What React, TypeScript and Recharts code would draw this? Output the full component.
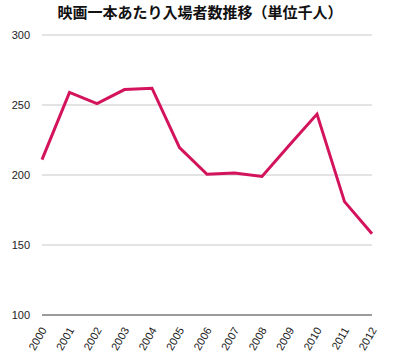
import { LineChart, Line, XAxis, YAxis, CartesianGrid } from 'recharts';

const years = ['2000', '2001', '2002', '2003', '2004', '2005', '2006', '2007', '2008', '2009', '2010', '2011', '2012'];
const visitors = [211, 259, 251, 261, 262, 219.5, 200.5, 201.5, 199, 221.5, 243.5, 181, 158];
const yTicks = [100, 150, 200, 250, 300];

const data = years.map((year, i) => ({ year, value: visitors[i] }));

function YearTick(props: any) {
  const { x, y, payload } = props;
  const tx = x + 5;
  const ty = y + 7;
  return (
    <text
      x={tx}
      y={ty}
      textAnchor="end"
      fontSize={11}
      fontFamily="'Liberation Sans', Arial, sans-serif"
      fill="#222"
      transform={`rotate(-60, ${tx}, ${ty})`}
    >
      {payload.value}
    </text>
  );
}

export default function App() {
  return (
    <div style={{ position: 'absolute', left: 0, top: 0, width: 400, height: 360, background: '#fff' }}>
      <div
        style={{
          position: 'absolute',
          left: 0,
          top: 3,
          width: 400,
          textAlign: 'center',
          fontFamily: "'Noto Sans CJK JP', sans-serif",
          fontWeight: 'bold',
          fontSize: 15,
          lineHeight: '18px',
          color: '#111',
        }}
      >
        映画一本あたり入場者数推移（単位千人）
      </div>
      <LineChart width={400} height={360} data={data} margin={{ top: 35, right: 28, bottom: 0, left: 0 }}>
        <CartesianGrid vertical={false} stroke="#c8c8c8" />
        <XAxis
          dataKey="year"
          interval={0}
          tickLine={false}
          axisLine={{ stroke: '#555' }}
          height={45}
          tick={<YearTick />}
        />
        <YAxis
          domain={[100, 300]}
          ticks={yTicks}
          width={42}
          axisLine={false}
          tickLine={false}
          tickSize={6}
          tickMargin={6}
          tick={{ fontSize: 11, fill: '#222', fontFamily: "'Liberation Sans', Arial, sans-serif" }}
        />
        <Line
          type="linear"
          dataKey="value"
          stroke="#d3135c"
          strokeWidth={3}
          dot={false}
          isAnimationActive={false}
        />
      </LineChart>
    </div>
  );
}
